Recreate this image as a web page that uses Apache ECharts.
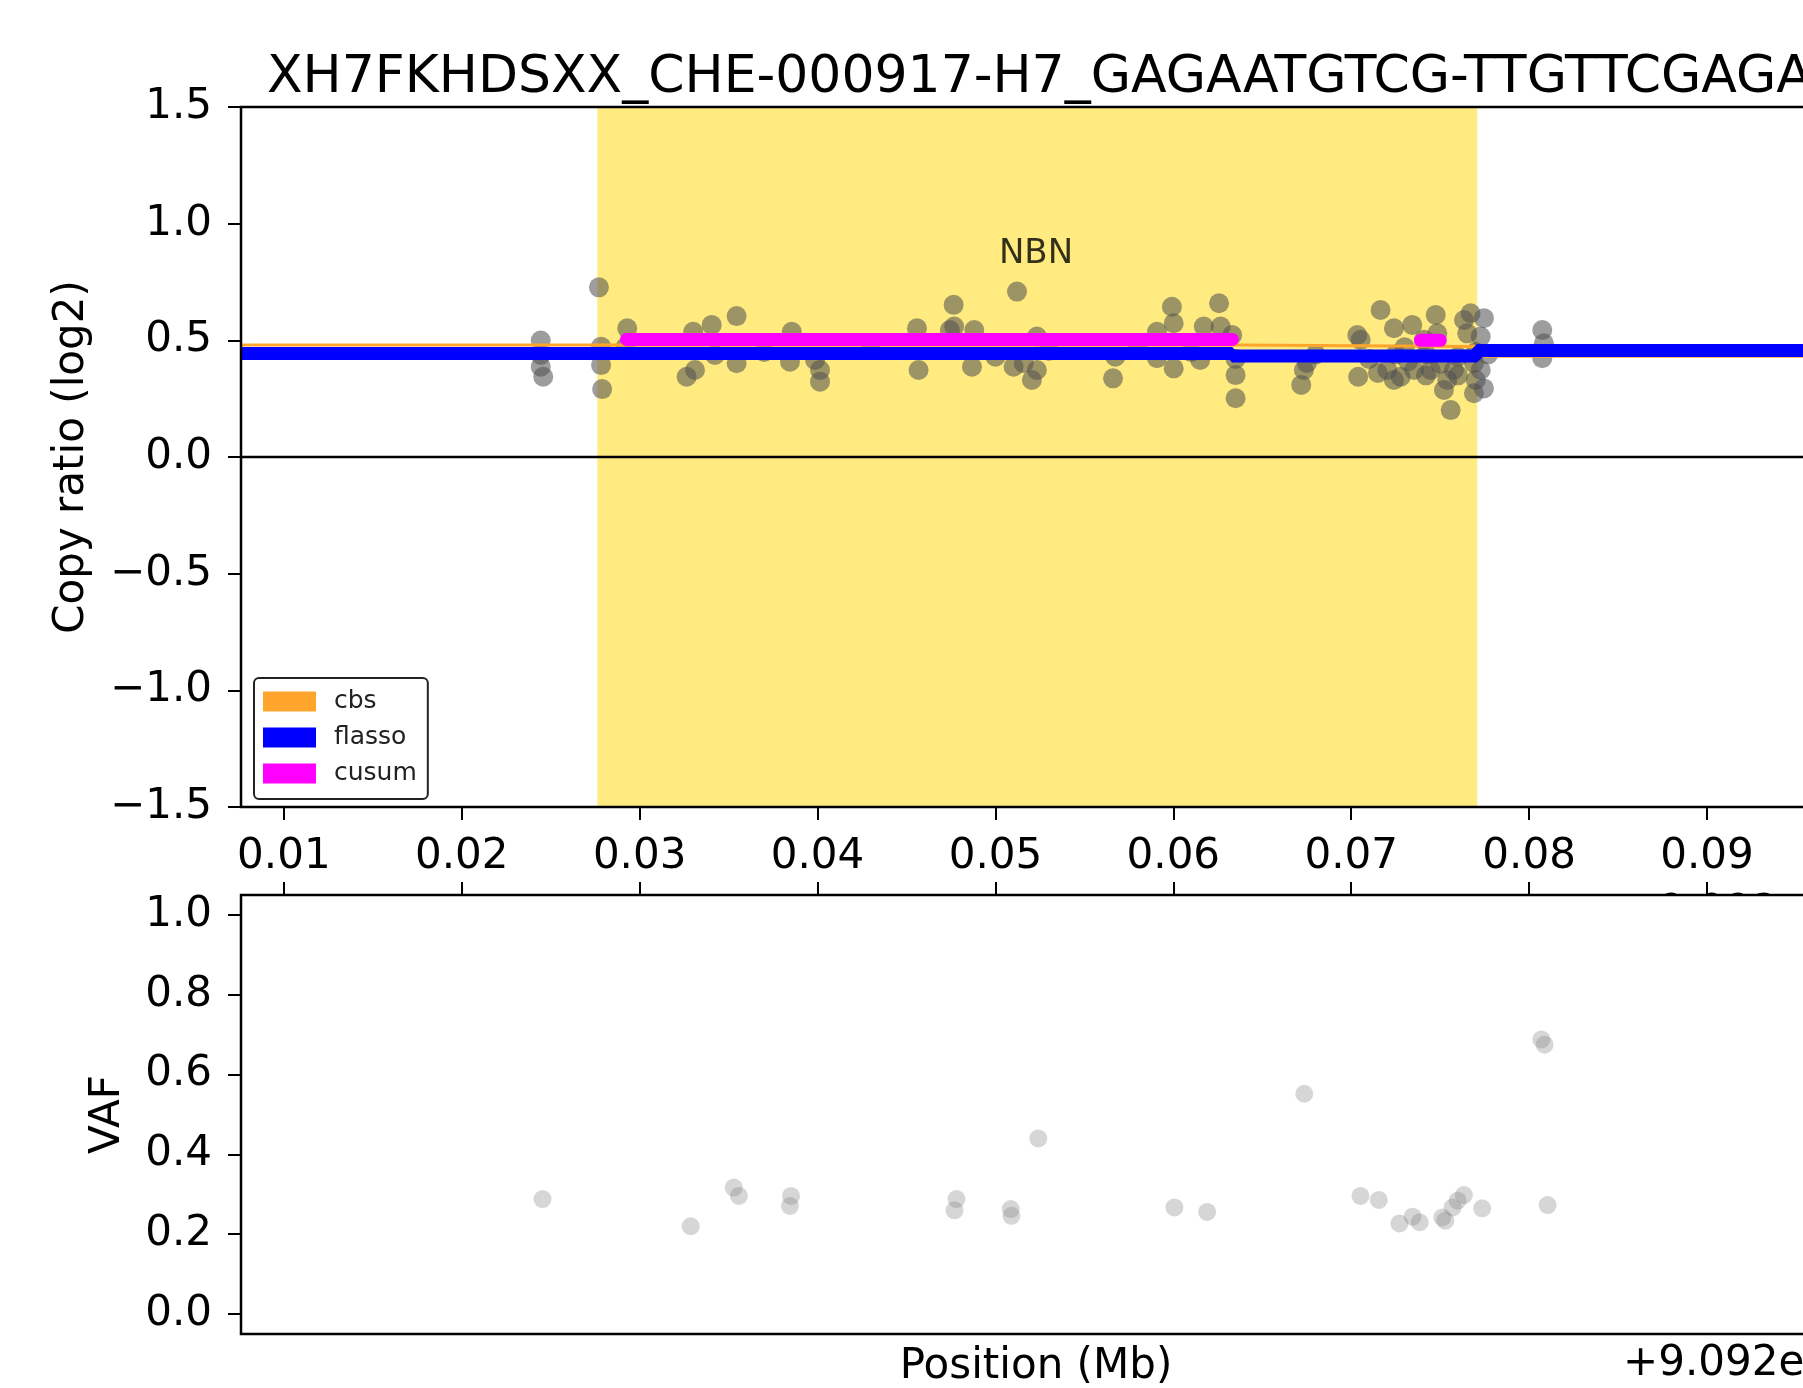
<!DOCTYPE html>
<html><head><meta charset="utf-8">
<script src="https://cdn.jsdelivr.net/npm/echarts/dist/echarts.min.js"></script>
<style>html,body{margin:0;padding:0;background:#fff;overflow:hidden}#c{width:1803px;height:1388px}</style>
</head><body><div id="c"></div>
<script>
// ---- data ----
const titleText = 'XH7FKHDSXX_CHE-000917-H7_GAGAATGTCG-TTGTTCGAGA';
const xMin = 0.00759, xMax = 0.09697;
const xTicks = [0.01, 0.02, 0.03, 0.04, 0.05, 0.06, 0.07, 0.08, 0.09];
const cnTicks = [-1.5, -1.0, -0.5, 0.0, 0.5, 1.0, 1.5];
const vafTicks = [0.0, 0.2, 0.4, 0.6, 0.8, 1.0];
const highlight = [0.02762, 0.07708];
const offsetText = '+9.092e7';

const cnX = [0.02444,0.02444,0.02444,0.02458,0.02771,0.02783,0.02783,0.02789,0.02930,0.03301,
  0.03405,0.03311,0.03264,0.03423,0.03545,0.03545,0.03855,0.03845,0.04014,0.04014,
  0.03986,0.04559,0.04568,0.04765,0.04768,0.04744,0.04881,0.04868,0.05121,0.05102,
  0.05233,0.05205,0.05233,0.05159,0.05674,0.05661,0.05992,0.06002,0.05908,0.05908,
  0.06002,0.06171,0.06151,0.06257,0.06266,0.06331,0.06350,0.06350,0.06734,0.06719,
  0.06751,0.07034,0.07053,0.07039,0.07165,0.07240,0.07343,0.07203,0.07278,0.07353,
  0.07240,0.07409,0.07475,0.07484,0.07540,0.07521,0.07559,0.07634,0.07652,0.07671,
  0.07746,0.07728,0.07690,0.07690,0.07746,0.07728,0.07577,0.07447,0.08074,0.08083,
  0.08074,0.02920,0.03700,0.04300,0.05000,0.05300,0.05800,0.06100,0.06800,0.07100,
  0.07250,0.07320,0.07420,0.07500,0.07600,0.07700,0.07300,0.07150,0.07420,0.07600,
  0.07700,0.06350,0.07770];
const cnY = [0.499,0.437,0.387,0.344,0.727,0.473,0.394,0.291,0.552,0.537,
  0.566,0.373,0.344,0.437,0.604,0.402,0.537,0.408,0.373,0.323,
  0.416,0.552,0.373,0.652,0.559,0.544,0.544,0.387,0.709,0.387,
  0.516,0.330,0.373,0.402,0.430,0.337,0.644,0.573,0.537,0.423,
  0.380,0.559,0.416,0.659,0.559,0.523,0.351,0.252,0.373,0.309,
  0.403,0.523,0.502,0.344,0.630,0.552,0.566,0.373,0.344,0.373,
  0.330,0.502,0.609,0.530,0.330,0.287,0.201,0.587,0.530,0.616,
  0.595,0.516,0.402,0.273,0.294,0.373,0.373,0.373,0.544,0.487,
  0.423,0.470,0.450,0.460,0.430,0.455,0.470,0.450,0.440,0.420,
  0.440,0.410,0.440,0.400,0.430,0.450,0.470,0.360,0.350,0.350,
  0.330,0.420,0.440];

const vafX = [0.02454,0.03287,0.03529,0.03558,0.03851,0.03845,0.04781,0.04770,0.05086,0.05090,
  0.05241,0.06006,0.06190,0.06736,0.07052,0.07155,0.07271,0.07345,0.07385,0.07512,
  0.07529,0.07570,0.07598,0.07633,0.07736,0.08069,0.08087,0.08104];
const vafY = [0.288,0.220,0.317,0.296,0.296,0.271,0.288,0.260,0.263,0.246,
  0.440,0.267,0.256,0.552,0.296,0.286,0.227,0.244,0.230,0.242,
  0.234,0.267,0.284,0.298,0.265,0.688,0.675,0.273];

const cbsX = [xMin, 0.06364, 0.06364, 0.07707, 0.07707, xMax];
const cbsY = [0.480, 0.480, 0.474, 0.474, 0.432, 0.432];
const flassoX = [xMin, 0.06331, 0.06331, 0.07707, 0.07707, xMax];
const flassoY = [0.444, 0.444, 0.433, 0.433, 0.456, 0.456];
const cusumX = [0.02926, 0.06332, null, 0.07389, 0.07501];
const cusumY = [0.504, 0.504, null, 0.500, 0.500];
const gene = {name: 'NBN', x: 0.05228, y: 0.870};

// ---- helpers ----
const FONT = 'DejaVu Sans';
const zip = (xs, ys) => xs.map((x, i) => (x === null ? ['-', '-'] : [x, ys[i]]));
const fmtSigned = v => (v < 0 ? '\u2212' : '') + Math.abs(v).toFixed(1);

const chart = echarts.init(document.getElementById('c'), null, {renderer: 'canvas'});
const tickStyle = {show: true, inside: false, length: 13, lineStyle: {color: '#000', width: 2}};

chart.setOption({
  animation: false,
  backgroundColor: '#fff',
  title: {
    text: titleText, left: 262, top: 47,
    textStyle: {fontFamily: FONT, fontSize: 52, fontWeight: 'normal', color: '#000', lineHeight: 52}
  },
  legend: {
    data: ['cbs', 'flasso', 'cusum'], orient: 'vertical', left: 254, top: 678,
    padding: [11, 11, 13, 9], itemGap: 11, itemWidth: 53, itemHeight: 20, icon: 'rect',
    selectedMode: false, backgroundColor: '#fff', borderColor: '#222', borderWidth: 2, borderRadius: 5,
    textStyle: {fontFamily: FONT, fontSize: 25, color: '#222', lineHeight: 20, padding: [0, 0, 0, 13]},
    z: 20
  },
  grid: [
    {left: 241, top: 107, width: 1590, height: 700, show: true, backgroundColor: 'transparent',
     borderColor: '#000', borderWidth: 2.5, z: 5, containLabel: false, outerBoundsMode: 'none'},
    {left: 241, top: 895, width: 1590, height: 439, show: true, backgroundColor: '#fff',
     borderColor: '#000', borderWidth: 2.5, z: 0, containLabel: false, outerBoundsMode: 'none'}
  ],
  xAxis: [
    {type: 'value', gridIndex: 0, min: xMin, max: xMax, position: 'bottom',
     axisLine: {show: false, onZero: false}, splitLine: {show: false},
     axisTick: Object.assign({customValues: xTicks}, tickStyle),
     axisLabel: {customValues: xTicks, formatter: v => v.toFixed(2), fontFamily: FONT, fontSize: 42, color: '#000', margin: 29}},
    {type: 'value', gridIndex: 1, min: xMin, max: xMax, position: 'bottom',
     axisLine: {show: false, onZero: false}, splitLine: {show: false}, axisTick: {show: false}, axisLabel: {show: false},
     name: 'Position (Mb)', nameLocation: 'middle', nameGap: 12,
     nameTextStyle: {fontFamily: FONT, fontSize: 42, color: '#000'}},
    {type: 'value', gridIndex: 1, min: xMin, max: xMax, position: 'top',
     axisLine: {show: false, onZero: false}, splitLine: {show: false},
     axisTick: Object.assign({customValues: xTicks}, tickStyle), axisLabel: {show: false}}
  ],
  yAxis: [
    {type: 'value', gridIndex: 0, min: -1.5, max: 1.5, interval: 0.5,
     axisLine: {show: false, onZero: false}, splitLine: {show: false}, axisTick: tickStyle,
     axisLabel: {formatter: fmtSigned, fontFamily: FONT, fontSize: 42, color: '#000', margin: 29},
     name: 'Copy ratio (log2)', nameLocation: 'middle', nameRotate: 90, nameGap: 148,
     nameTextStyle: {fontFamily: FONT, fontSize: 42, color: '#000'}},
    {type: 'value', gridIndex: 1, min: -0.05, max: 1.05,
     axisLine: {show: false, onZero: false}, splitLine: {show: false},
     axisTick: Object.assign({customValues: vafTicks}, tickStyle),
     axisLabel: {customValues: vafTicks, formatter: v => v.toFixed(1), fontFamily: FONT, fontSize: 42, color: '#000', margin: 29},
     name: 'VAF', nameLocation: 'middle', nameRotate: 90, nameGap: 112,
     nameTextStyle: {fontFamily: FONT, fontSize: 42, color: '#000'}}
  ],
  graphic: [
    {type: 'text', z: -10, x: 1831, y: 913, style: {text: offsetText, fontFamily: FONT, fontSize: 42, fill: '#000', textAlign: 'right', textVerticalAlign: 'middle'}},
    {type: 'text', z: 10, x: 1831, y: 1364, style: {text: offsetText, fontFamily: FONT, fontSize: 42, fill: '#000', textAlign: 'right', textVerticalAlign: 'middle'}}
  ],
  series: [
    {type: 'line', name: 'highlight', xAxisIndex: 0, yAxisIndex: 0, data: [[xMin, 0]], symbol: 'none',
     lineStyle: {opacity: 0}, z: 0, silent: true,
     markArea: {silent: true, itemStyle: {color: 'rgba(255,215,0,0.5)'},
       data: [[{xAxis: highlight[0]}, {xAxis: highlight[1]}]]}},
    {type: 'line', name: 'zero', xAxisIndex: 0, yAxisIndex: 0, data: [[xMin, 0], [xMax, 0]], symbol: 'none',
     lineStyle: {color: '#000', width: 2.5}, z: 1, silent: true},
    {type: 'scatter', name: 'copy ratio', xAxisIndex: 0, yAxisIndex: 0, data: zip(cnX, cnY),
     symbolSize: 20, itemStyle: {color: 'rgba(80,80,80,0.7)'}, z: 2, silent: true},
    {type: 'line', name: 'cbs', xAxisIndex: 0, yAxisIndex: 0, data: zip(cbsX, cbsY), symbol: 'none',
     color: '#FFA52C', lineStyle: {color: '#FFA52C', width: 3}, z: 3, silent: true},
    {type: 'line', name: 'flasso', xAxisIndex: 0, yAxisIndex: 0, data: zip(flassoX, flassoY), symbol: 'none',
     color: '#0000FF', lineStyle: {color: '#0000FF', width: 13}, z: 3, silent: true},
    {type: 'line', name: 'cusum', xAxisIndex: 0, yAxisIndex: 0, data: zip(cusumX, cusumY), symbol: 'none',
     connectNulls: false, color: '#FF00FF', lineStyle: {color: '#FF00FF', width: 13, cap: 'round'}, z: 3, silent: true},
    {type: 'scatter', name: 'gene', xAxisIndex: 0, yAxisIndex: 0, data: [[gene.x, gene.y]], symbolSize: 2,
     itemStyle: {color: 'rgba(0,0,0,0)'}, silent: true, z: 4,
     label: {show: true, position: 'inside', formatter: gene.name, fontFamily: FONT, fontSize: 34, color: '#000'}},
    {type: 'scatter', name: 'VAF', xAxisIndex: 1, yAxisIndex: 1, data: zip(vafX, vafY),
     symbolSize: 18, itemStyle: {color: 'rgba(128,128,128,0.4)'}, z: 2, silent: true}
  ]
});
</script></body></html>
